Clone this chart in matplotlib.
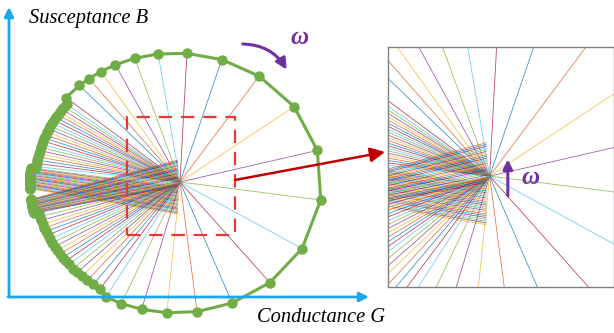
import matplotlib.pyplot as plt
import numpy as np
from matplotlib.collections import LineCollection
from matplotlib.patches import FancyArrowPatch, Rectangle

# admittance locus: polar angles (deg) around the locus centre, in frequency order
theta_head = [182.5, 182.1, 181.7, 181.3, 180.9, 180.5, 180.1, 179.7, 179.3, 178.9,
              178.5, 178.1, 177.7, 177.3, 176.9, 176.5, 176.1, 175.7, 175.3, 174.9,
              174.5, 174.1, 173.7, 173.3]
theta_upper = [172.5, 171.0, 169.5, 168.0, 166.5, 165.0, 163.5, 162.0, 160.5, 159.0,
               157.5, 156.0, 154.5, 153.0, 151.5, 150.0, 148.5, 147.0, 145.5, 144.0,
               142.5, 141.0]
theta_sparse = [138.9, 131.4, 126.6, 121.0, 114.5, 106.4, 97.0, 85.7, 71.7, 55.3,
                36.0, 14.5, -7.5, -30.3, -50.0, -67.4, -81.7, -93.6, -103.6, -112.0,
                -118.7]
theta_lower = [-122.5, -126.0, -129.0, -132.0, -134.5, -137.0, -139.5, -141.5, -143.5,
               -145.5, -147.5, -149.5, -151.5, -153.5, -155.5, -157.3, -159.1, -160.9,
               -162.7, -164.5, -166.2]
theta_tail = [-166.8, -167.1, -167.3, -167.6, -167.8, -168.1, -168.4, -168.6, -168.9,
              -169.1, -169.4, -169.7, -169.9, -170.2, -170.4, -170.7, -171.0, -171.2,
              -171.5, -171.7, -172.0, -172.3, -172.5, -172.8]

# relative radius of each group of points
r_head, r_upper, r_sparse, r_lower, r_tail = 1.0, 0.965, 1.0, 0.965, 1.0

# susceptance at which the low/high frequency lines end
head_hub_B = [83, 84.2, 85.3, 86.5, 87.7, 88.9, 90.0, 91.2, 92.4, 93.6, 94.7, 95.9,
              97.1, 98.3, 99.4, 100.6, 101.8, 103.0, 104.1, 105.3, 106.5, 107.7, 108.8, 110]
tail_hub_B = [111, 112.1, 113.3, 114.4, 115.5, 116.7, 117.8, 118.9, 120.0, 121.2, 122.3,
              123.4, 124.6, 125.7, 126.8, 128.0, 129.1, 130.2, 131.3, 132.5, 133.6, 134.7,
              135.9, 137]
hub_G, hub_B = 170, 115
wedge_G = 168

G0, B0, a, b = 166, 114, 146, 130

colors = ['#0072BD', '#D95319', '#EDB120', '#7E2F8E', '#77AC30', '#4DBEEE', '#A2142F']


def locus(theta, r):
    t = np.radians(theta)
    return G0 + r * a * np.cos(t), B0 + r * b * np.sin(t)


groups = [(theta_head, r_head), (theta_upper, r_upper), (theta_sparse, r_sparse),
          (theta_lower, r_lower), (theta_tail, r_tail)]
G = np.concatenate([locus(th, r)[0] for th, r in groups])
B = np.concatenate([locus(th, r)[1] for th, r in groups])

n_tail = len(theta_tail)
ends = [(hub_G, hub_B)] * len(G)
for i, hb in enumerate(head_hub_B):
    ends[i] = (wedge_G, hb)
for i, hb in enumerate(tail_hub_B):
    ends[len(G) - n_tail + i] = (wedge_G, hb)

segs = [[(G[i], B[i]), ends[i]] for i in range(len(G))]
seg_colors = [colors[(i + 2) % 7] for i in range(len(G))]

fig = plt.figure(figsize=(6.14, 3.33), dpi=100)
ax = fig.add_axes([0, 0, 1, 1])
ax.set_xlim(-10, 604)
ax.set_ylim(-36, 297)
ax.axis('off')

ax.add_collection(LineCollection(segs, colors=seg_colors, linewidths=0.6, alpha=0.75, zorder=2))
ax.plot(G, B, '-o', color='#70AD47', lw=2.2, ms=6.5, zorder=3)

# axes arrows
blue = '#1AA7EC'
ax.annotate('', xy=(-1, 290), xytext=(-1, 0),
            arrowprops=dict(arrowstyle='-|>', color=blue, lw=2, mutation_scale=14, shrinkA=0, shrinkB=0))
ax.annotate('', xy=(359, 0), xytext=(-2, 0),
            arrowprops=dict(arrowstyle='-|>', color=blue, lw=2, mutation_scale=14, shrinkA=0, shrinkB=0))
ax.text(19, 279, 'Susceptance B', family='Liberation Serif', style='italic', fontsize=14.8,
        va='center', ha='left')
ax.text(247, -20, 'Conductance G', family='Liberation Serif', style='italic', fontsize=14.8,
        va='center', ha='left')

# rotation direction
purple = '#7030A0'
ax.add_patch(FancyArrowPatch((230, 253), (278, 225), connectionstyle='arc3,rad=-0.3',
                             arrowstyle='-|>', mutation_scale=16, color=purple, lw=2.2))
ax.text(290, 259, 'ω', family='Liberation Serif', style='italic', weight='bold',
        fontsize=18, color=purple, ha='center', va='center')

# zoom window and pointer
ax.add_patch(Rectangle((117, 62), 108, 118, fill=False, ec='#E53935', lw=1.6,
                       ls=(0, (6, 4)), zorder=4))
ax.annotate('', xy=(375, 145), xytext=(225, 117),
            arrowprops=dict(arrowstyle='-|>', color='#C00000', lw=1.8, mutation_scale=22,
                            shrinkA=0, shrinkB=0), zorder=5)

# zoomed view of the line ends
axin = fig.add_axes([388 / 614, 46 / 333, 226 / 614, 240 / 333])
axin.add_collection(LineCollection(segs, colors=seg_colors, linewidths=0.6, alpha=0.75))
axin.set_xlim(103, 252)
axin.set_ylim(42, 200)
axin.set_xticks([])
axin.set_yticks([])
for s in axin.spines.values():
    s.set_color('#808080')
    s.set_linewidth(1.0)
axin.annotate('', xy=(182, 126), xytext=(182, 102),
              arrowprops=dict(arrowstyle='-|>', color=purple, lw=2.2, mutation_scale=14,
                              shrinkA=0, shrinkB=0))
axin.text(191, 114, 'ω', family='Liberation Serif', style='italic', weight='bold',
          fontsize=18, color=purple, ha='left', va='center')

fig.savefig('out.png', dpi=100)
